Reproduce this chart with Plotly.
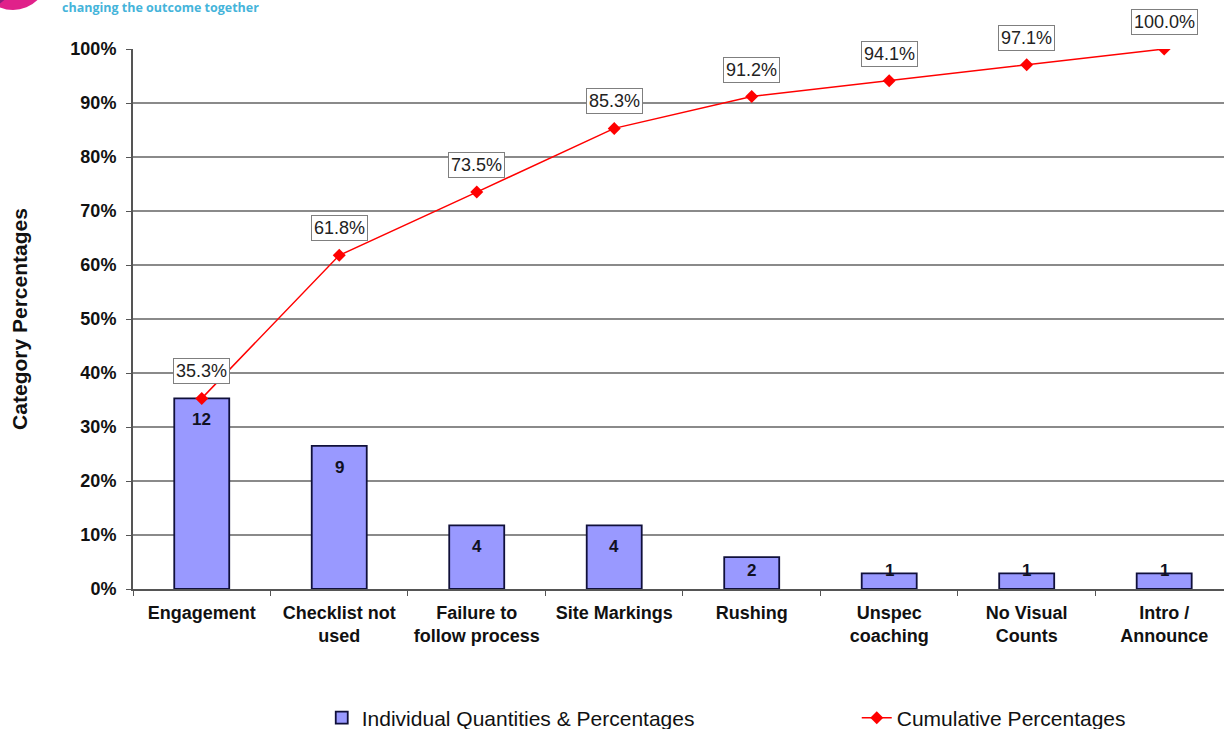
import plotly.graph_objects as go

categories = ["Engagement", "Checklist not<br>used", "Failure to<br>follow process", "Site Markings",
              "Rushing", "Unspec<br>coaching", "No Visual<br>Counts", "Intro /<br>Announce"]
counts = [12, 9, 4, 4, 2, 1, 1, 1]
bar_pct = [35.3, 26.5, 11.8, 11.8, 5.9, 2.9, 2.9, 2.9]
cum_pct = [35.3, 61.8, 73.5, 85.3, 91.2, 94.1, 97.1, 100.0]
y_ticks = [0, 10, 20, 30, 40, 50, 60, 70, 80, 90, 100]
y_tick_text = ["0%", "10%", "20%", "30%", "40%", "50%", "60%", "70%", "80%", "90%", "100%"]

FONT = "Liberation Sans, Arial, sans-serif"

fig = go.Figure()
fig.add_trace(go.Bar(
    x=categories, y=bar_pct, name="Individual Quantities & Percentages",
    width=0.4, marker=dict(color="#9999ff", line=dict(color="#10103a", width=1.8)),
))
fig.add_trace(go.Scatter(
    x=categories, y=cum_pct, name="Cumulative Percentages", mode="lines+markers",
    line=dict(color="#ff0000", width=1.5),
    marker=dict(symbol="diamond", size=10, color="#ff0000"),
))

annotations = []
for c, n, p in zip(categories, counts, bar_pct):
    annotations.append(dict(
        x=c, y=max(p - 4.0, 3.4), text=str(n), showarrow=False, yanchor="middle",
        font=dict(family=FONT, size=17, color="#111122", weight="bold"),
    ))
for c, v in zip(categories, cum_pct):
    annotations.append(dict(
        x=c, y=v, text=f"{v:.1f}%", showarrow=False, yanchor="middle", yshift=27,
        bgcolor="white", bordercolor="#7f7f7f", borderwidth=1, borderpad=2,
        font=dict(family=FONT, size=18, color="#222222"),
    ))
annotations.append(dict(
    xref="paper", yref="paper", x=(60 - 133) / 1091, y=(589 - 7) / 540,
    xanchor="left", yanchor="middle",
    text="<b>changing the outcome together</b>", showarrow=False,
    font=dict(family="Open Sans, Liberation Sans, sans-serif", size=12.5, color="#45b4da"),
))

fig.update_layout(
    width=1224, height=729,
    margin=dict(l=133, r=0, t=49, b=140, autoexpand=False),
    paper_bgcolor="white", plot_bgcolor="white",
    font=dict(family=FONT, color="#111111"),
    showlegend=True,
    legend=dict(orientation="h", x=0.173, y=-0.239, xanchor="left", yanchor="middle",
                font=dict(family=FONT, size=21, color="#111111"),
                entrywidth=490, traceorder="normal"),
    xaxis=dict(
        type="category", range=[-0.5, 7.435], showgrid=False, automargin=False,
        ticks="outside", tickson="boundaries", ticklen=5, tickcolor="#555555",
        ticklabelstandoff=6,
        showline=True, linecolor="#555555", linewidth=2,
        tickfont=dict(family=FONT, size=18, color="#111111", weight="bold"),
    ),
    yaxis=dict(
        range=[0, 100], tickvals=y_ticks, ticktext=y_tick_text, automargin=False,
        showgrid=True, gridcolor="#8a8a8a", gridwidth=1.6,
        ticks="outside", ticklen=5, tickcolor="#555555", ticklabelstandoff=6,
        showline=True, linecolor="#555555", linewidth=2, zeroline=False,
        tickfont=dict(family=FONT, size=18, color="#111111", weight="bold"),
        title=dict(text="Category Percentages", standoff=37,
                   font=dict(family=FONT, size=21, color="#111111", weight="bold")),
    ),
    annotations=annotations,
    shapes=[
        dict(type="circle", xref="paper", yref="paper",
             x0=(-22 - 133) / 1091, x1=(48 - 133) / 1091,
             y0=(589 - 10) / 540, y1=(589 + 60) / 540,
             fillcolor="#e0218a", line=dict(width=0), layer="above"),
        dict(type="circle", xref="paper", yref="paper",
             x0=(-50 - 133) / 1091, x1=(14 - 133) / 1091,
             y0=(589 - 9) / 540, y1=(589 + 55) / 540,
             fillcolor="#8a1f7a", line=dict(width=0), layer="above"),
    ],
    bargap=0.6,
)

fig.write_html("out.html")
